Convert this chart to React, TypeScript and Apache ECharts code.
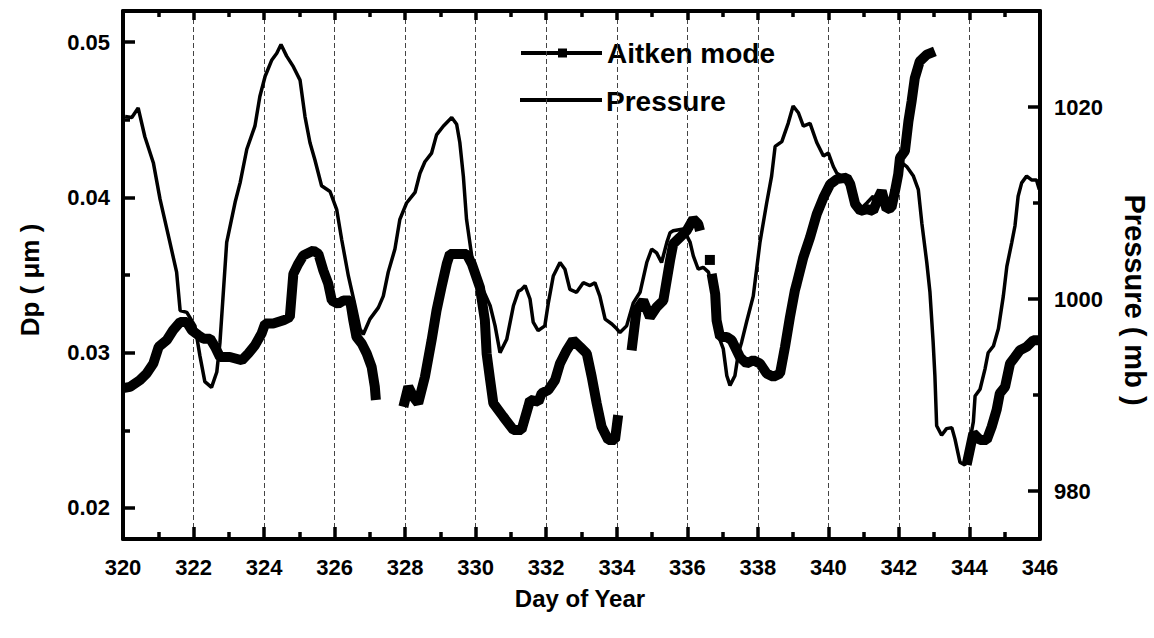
import React, { useEffect, useRef } from "react";
import * as echarts from "echarts";

const dpLabels = [0.02, 0.03, 0.04, 0.05];
const dpMinor = [0.025, 0.035, 0.045];
const pLabels = [980, 1000, 1020];
const pMinor = [990, 1010];

// Pressure (mb)
const pressureDays = [
  320.06, 320.25, 320.43, 320.62, 320.86, 321.05, 321.33, 321.52, 321.62, 321.81, 322.04, 322.18, 322.32, 322.51,
  322.66, 322.75, 322.94, 323.18, 323.32, 323.51, 323.74, 323.88, 324.03, 324.22, 324.36, 324.48, 324.64, 324.83,
  325.02, 325.16, 325.3, 325.44, 325.63, 325.87, 326.06, 326.2, 326.39, 326.58, 326.72, 326.81, 327.0, 327.24,
  327.38, 327.52, 327.71, 327.85, 328.04, 328.28, 328.42, 328.56, 328.75, 328.89, 329.08, 329.32, 329.46, 329.55,
  329.65, 329.74, 329.93, 330.12, 330.41, 330.55, 330.69, 330.88, 331.07, 331.21, 331.3, 331.4, 331.54, 331.63,
  331.77, 331.96, 332.06, 332.2, 332.39, 332.53, 332.67, 332.86, 333.05, 333.24, 333.38, 333.52, 333.67, 333.86,
  334.0, 334.09, 334.28, 334.47, 334.66, 334.85, 334.99, 335.13, 335.27, 335.42, 335.51, 335.6, 335.89, 336.08,
  336.17, 336.31, 336.45, 336.6, 336.69, 336.79, 336.88, 337.02, 337.12, 337.21, 337.35, 337.45, 337.54, 337.68,
  337.87, 338.06, 338.25, 338.39, 338.49, 338.68, 338.86, 339.0, 339.15, 339.29, 339.48, 339.67, 339.86, 340.0,
  340.14, 340.24, 340.52, 340.71, 340.89, 341.09, 341.27, 341.37, 341.51, 341.65, 341.84, 341.98, 342.08, 342.22,
  342.41, 342.55, 342.65, 342.79, 342.88, 342.97, 343.02, 343.07, 343.21, 343.35, 343.5, 343.59, 343.73, 343.87,
  343.97, 344.11, 344.16, 344.3, 344.44, 344.53, 344.68, 344.82, 344.96, 345.06, 345.2, 345.29, 345.38, 345.48,
  345.62, 345.76, 345.9, 345.98,
];
const pressureMb = [
  1019.0, 1018.9, 1019.9, 1016.9, 1014.2, 1010.4, 1005.9, 1002.8, 998.8, 998.6, 997.2, 994.1, 991.4, 990.8,
  992.4, 995.5, 1005.9, 1010.1, 1012.1, 1015.6, 1018.0, 1021.1, 1023.2, 1024.9, 1025.6, 1026.5, 1025.3, 1024.2,
  1022.8, 1019.0, 1016.3, 1014.5, 1011.8, 1011.2, 1009.3, 1006.2, 1002.4, 999.3, 996.9, 996.3, 997.9, 999.1,
  1000.3, 1002.8, 1005.2, 1008.3, 1010.0, 1011.1, 1013.1, 1014.3, 1015.2, 1017.1, 1018.0, 1018.9, 1018.2, 1016.3,
  1012.8, 1008.3, 1003.4, 1001.7, 999.3, 997.2, 994.4, 995.8, 999.3, 1000.8, 1001.0, 1001.4, 1000.0, 997.6,
  996.7, 997.2, 999.6, 1002.4, 1003.8, 1003.1, 1001.0, 1000.7, 1001.7, 1001.4, 1001.7, 1000.3, 997.9, 997.4,
  996.9, 996.5, 997.2, 999.6, 1000.7, 1003.8, 1005.2, 1004.8, 1003.8, 1005.9, 1006.9, 1007.1, 1007.3, 1005.9,
  1004.5, 1003.1, 1003.3, 1002.8, 1001.4, 999.6, 996.2, 994.8, 992.0, 991.0, 992.0, 994.4, 995.5, 997.6,
  1000.3, 1005.9, 1010.0, 1012.8, 1015.9, 1016.4, 1018.3, 1020.1, 1019.4, 1018.0, 1018.3, 1016.3, 1014.9, 1015.2,
  1013.8, 1013.1, 1012.5, 1009.7, 1009.3, 1010.0, 1010.7, 1010.0, 1011.2, 1009.3, 1010.7, 1012.8, 1014.2, 1013.8,
  1012.8, 1011.4, 1007.9, 1003.8, 1000.7, 995.5, 992.0, 986.8, 985.8, 986.5, 986.6, 985.4, 983.0, 982.7,
  984.4, 987.2, 989.9, 990.6, 992.7, 994.4, 995.1, 996.9, 1000.3, 1003.4, 1005.9, 1007.6, 1010.7, 1012.1,
  1012.8, 1012.4, 1012.4, 1011.4,
];

// Aitken mode diameter (um); null marks a gap in the record
const aitkenDays = [
  320.0, 320.2, 320.48, 320.67, 320.86, 321.01, 321.24, 321.42, 321.62, 321.81, 321.95, 322.14, 322.28, 322.47,
  322.61, 322.75, 323.03, 323.37, 323.55, 323.74, 323.93, 324.03, 324.26, 324.55, 324.73, 324.83, 324.97, 325.11,
  325.4, 325.54, 325.68, 325.82, 325.92, 326.1, 326.25, 326.44, 326.53, 326.62, 326.77, 326.91, 327.05, 327.14,
  327.17, 327.5,
  327.95, 328.09, 328.23, 328.37, 328.56, 328.75, 328.89, 329.03, 329.18, 329.27, 329.46, 329.74, 329.89, 330.12,
  330.26, 330.31, 330.41, 330.5, 330.78, 331.07, 331.3, 331.49, 331.54, 331.78, 331.87, 332.06, 332.25, 332.39,
  332.58, 332.76, 332.96, 333.15, 333.29, 333.43, 333.57, 333.76, 333.95, 334.04, 334.2,
  334.42, 334.56, 334.75, 334.94, 335.13, 335.32, 335.51, 335.6, 335.79, 335.98, 336.17, 336.31, 336.36, 336.5,
  336.69, 336.79, 336.83, 336.93, 337.12, 337.26, 337.49, 337.68, 337.87, 338.06, 338.25, 338.44, 338.63, 338.77,
  338.91, 339.05, 339.1, 339.29, 339.48, 339.67, 339.86, 340.05, 340.24, 340.52, 340.62, 340.76, 340.91, 341.09,
  341.27, 341.42, 341.51, 341.65, 341.79, 341.89, 341.98, 342.03, 342.17, 342.27, 342.36, 342.45, 342.59, 342.79,
  343.02, 343.5,
  343.92, 344.11, 344.3, 344.49, 344.63, 344.77, 344.86, 345.01, 345.15, 345.29, 345.43, 345.62, 345.81, 345.98,
];
const aitkenDp = [
  0.02772, 0.0278, 0.02823, 0.02866, 0.0293, 0.03037, 0.0308, 0.03144, 0.03197, 0.03197, 0.03144, 0.03112, 0.0309, 0.0309,
  0.03037, 0.02972, 0.02972, 0.02951, 0.02994, 0.03047, 0.03123, 0.03187, 0.03187, 0.03208, 0.03229, 0.03507, 0.03572, 0.03625,
  0.03657, 0.03636, 0.03529, 0.03443, 0.03336, 0.03315, 0.03336, 0.03336, 0.03208, 0.03101, 0.03058, 0.02994, 0.02908, 0.0278,
  0.02695, null,
  0.02652, 0.0278, 0.02716, 0.02674, 0.02844, 0.0308, 0.03272, 0.03421, 0.03572, 0.03636, 0.03636, 0.03636, 0.03572, 0.03421,
  0.03208, 0.02994, 0.02823, 0.02674, 0.02588, 0.02502, 0.02502, 0.02652, 0.02695, 0.02684, 0.02738, 0.02759, 0.02823, 0.0293,
  0.03015, 0.0308, 0.03037, 0.02994, 0.02844, 0.02674, 0.02523, 0.02438, 0.02438, 0.02598, null,
  0.03015, 0.03272, 0.03336, 0.03229, 0.03293, 0.03336, 0.03593, 0.037, 0.03742, 0.03785, 0.0386, 0.03828, 0.03785, null,
  0.03507, 0.03379, 0.03208, 0.03101, 0.03101, 0.0308, 0.02972, 0.0293, 0.02951, 0.0293, 0.02866, 0.02844, 0.02866, 0.03037,
  0.03229, 0.034, 0.03443, 0.03614, 0.03742, 0.03892, 0.03999, 0.04085, 0.04117, 0.04127, 0.04085, 0.03956, 0.03913, 0.03924,
  0.03913, 0.03999, 0.04042, 0.03924, 0.03935, 0.04042, 0.04149, 0.04255, 0.04298, 0.04491, 0.04619, 0.04768, 0.04876, 0.04919,
  0.0494, null,
  0.02278, 0.02481, 0.02438, 0.02438, 0.02523, 0.02631, 0.02738, 0.0278, 0.0293, 0.02972, 0.03015, 0.03037, 0.0308, 0.0308,
];
// isolated Aitken sample
const aitkenLoneDays = [336.64];
const aitkenLoneDp = [0.03597];

const FONT = "'Liberation Sans', Arial, sans-serif";
const INK = "#000000";

export default function App() {
  const ref = useRef<HTMLDivElement>(null);
  useEffect(() => {
    if (!ref.current) return;
    const chart = echarts.init(ref.current, null, { renderer: "svg" });
    const pressureData = pressureDays.map((d, i) => [d, pressureMb[i]]);
    const aitkenData = aitkenDays.map((d, i) => [d, aitkenDp[i] === null ? "-" : aitkenDp[i]]);
    const loneData = aitkenLoneDays.map((d, i) => [d, aitkenLoneDp[i]]);
    const line = { show: true, onZero: false, lineStyle: { color: INK, width: 4 } };
    const tickStyle = { color: INK, width: 3.5 };
    const labelBase = { color: INK, fontWeight: "bold", fontSize: 22, fontFamily: FONT };
    chart.setOption({
      animation: false,
      backgroundColor: "#fff",
      grid: { left: 123, right: 114, top: 11, bottom: 99 },
      xAxis: [
        {
          type: "value", min: 320, max: 346, interval: 2, position: "bottom",
          axisLine: line,
          axisTick: { show: true, inside: true, length: 12, lineStyle: tickStyle },
          minorTick: { show: true, splitNumber: 2, length: 7, lineStyle: tickStyle },
          axisLabel: { ...labelBase, margin: 17 },
          splitLine: { show: true, lineStyle: { color: "#444", width: 1, type: [5, 3] } },
        },
        {
          type: "value", min: 320, max: 346, interval: 2, position: "top",
          axisLine: line,
          axisTick: { show: true, inside: true, length: 9, lineStyle: tickStyle },
          minorTick: { show: true, splitNumber: 2, length: 6, lineStyle: tickStyle },
          axisLabel: { show: false },
          splitLine: { show: false },
        },
      ],
      yAxis: [
        {
          type: "value", min: 0.018, max: 0.052, position: "left",
          axisLine: line,
          axisTick: { show: true, inside: true, length: 12, customValues: dpLabels, lineStyle: tickStyle },
          axisLabel: { ...labelBase, margin: 13, customValues: dpLabels, formatter: (v: number) => v.toFixed(2) },
          splitLine: { show: false },
        },
        {
          type: "value", min: 975, max: 1030, position: "right",
          axisLine: line,
          axisTick: { show: true, inside: true, length: 12, customValues: pLabels, lineStyle: tickStyle },
          axisLabel: { ...labelBase, margin: 14, customValues: pLabels, formatter: (v: number) => String(v) },
          splitLine: { show: false },
        },
        {
          type: "value", min: 0.018, max: 0.052, position: "left",
          axisLine: { show: false },
          axisTick: { show: true, inside: true, length: 7, customValues: dpMinor, lineStyle: tickStyle },
          axisLabel: { show: false },
          splitLine: { show: false },
        },
        {
          type: "value", min: 975, max: 1030, position: "right",
          axisLine: { show: false },
          axisTick: { show: true, inside: true, length: 7, customValues: pMinor, lineStyle: tickStyle },
          axisLabel: { show: false },
          splitLine: { show: false },
        },
      ],
      series: [
        {
          name: "Pressure", type: "line", xAxisIndex: 0, yAxisIndex: 1, data: pressureData,
          showSymbol: false, symbol: "none", lineStyle: { color: INK, width: 3.5 },
        },
        {
          name: "Aitken mode", type: "line", xAxisIndex: 0, yAxisIndex: 0, data: aitkenData,
          showSymbol: false, symbol: "none", connectNulls: false, lineStyle: { color: INK, width: 10 },
        },
        {
          name: "Aitken lone", type: "line", xAxisIndex: 0, yAxisIndex: 0, data: loneData,
          showSymbol: true, symbol: "rect", symbolSize: 10,
          itemStyle: { color: INK, borderWidth: 0, opacity: 1 }, lineStyle: { color: INK, width: 0 },
        },
      ],
      graphic: [
        { type: "line", shape: { x1: 521, y1: 53, x2: 602, y2: 53 }, style: { stroke: INK, lineWidth: 4 } },
        { type: "rect", shape: { x: 558, y: 48.5, width: 9, height: 9 }, style: { fill: INK } },
        {
          type: "text", x: 607, y: 53,
          style: { text: "Aitken mode", fill: INK, font: `bold 28px ${FONT}`, textAlign: "left", textVerticalAlign: "middle" },
        },
        { type: "line", shape: { x1: 520, y1: 100, x2: 602, y2: 100 }, style: { stroke: INK, lineWidth: 4 } },
        {
          type: "text", x: 606, y: 101,
          style: { text: "Pressure", fill: INK, font: `bold 28px ${FONT}`, textAlign: "left", textVerticalAlign: "middle" },
        },
        {
          type: "text", x: 580, y: 598,
          style: { text: "Day of Year", fill: INK, font: `bold 24px ${FONT}`, textAlign: "center", textVerticalAlign: "middle" },
        },
        {
          type: "text", x: 30, y: 280, rotation: Math.PI / 2,
          style: { text: "Dp ( μm )", fill: INK, font: `bold 26px ${FONT}`, textAlign: "center", textVerticalAlign: "middle" },
        },
        {
          type: "text", x: 1135, y: 300, rotation: -Math.PI / 2,
          style: { text: "Pressure ( mb )", fill: INK, font: `bold 29px ${FONT}`, textAlign: "center", textVerticalAlign: "middle" },
        },
      ],
    });
    return () => chart.dispose();
  }, []);
  return <div ref={ref} style={{ position: "fixed", left: 0, top: 0, width: 1154, height: 638, background: "#fff" }} />;
}
